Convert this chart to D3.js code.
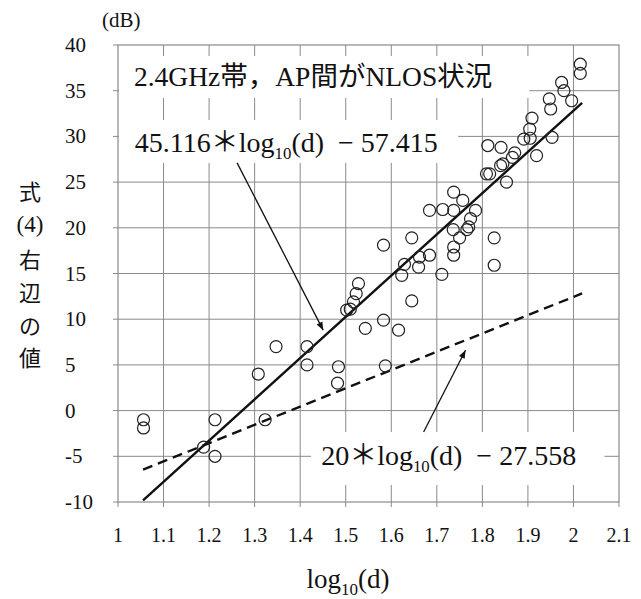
<!DOCTYPE html>
<html><head><meta charset="utf-8">
<script src="https://cdn.jsdelivr.net/npm/d3@7"></script>
<style>
html,body{margin:0;padding:0;background:#fff;}
svg{display:block;}
text{font-family:"Liberation Serif","Times New Roman",serif;fill:#111;}
.cjk{font-family:"Noto Sans CJK JP",sans-serif;}
.ser{font-family:"Liberation Serif","Times New Roman",serif;}
</style>
</head><body>
<svg id="c" width="641" height="599"></svg>
<script>
// ---- data ----
const logd = [1.056,1.056,1.213,1.188,1.213,1.323,1.308,1.347,1.415,1.415,1.482,1.484,
  1.502,1.510,1.517,1.523,1.528,1.543,1.583,1.587,1.616,1.583,1.623,1.629,1.645,1.645,
  1.660,1.662,1.684,1.711,1.684,1.713,1.737,1.736,1.737,1.737,1.750,1.757,1.766,1.770,
  1.774,1.785,1.737,1.809,1.816,1.812,1.826,1.826,1.840,1.845,1.841,1.853,1.871,1.866,
  1.891,1.905,1.904,1.909,1.919,1.947,1.950,1.953,1.974,1.979,1.996,2.015,2.015];
const value = [-1.0,-1.9,-1.0,-4.0,-5.0,-1.0,4.0,7.0,7.0,5.0,3.0,4.8,
  11.0,11.1,11.9,12.8,13.9,9.0,9.9,4.9,8.8,18.1,14.8,16.0,18.9,12.0,
  15.7,16.8,17.0,14.9,21.9,22.0,23.9,19.8,17.9,17.0,18.9,23.0,19.8,20.1,
  21.0,21.9,21.9,25.9,25.9,29.0,18.9,15.9,26.8,27.0,28.8,25.0,28.2,27.7,
  29.7,29.8,30.8,32.0,27.9,34.1,33.0,29.9,35.9,35.0,33.9,37.9,36.9];
const xTicks = [1,1.1,1.2,1.3,1.4,1.5,1.6,1.7,1.8,1.9,2,2.1];
const xTickLabels = ["1","1.1","1.2","1.3","1.4","1.5","1.6","1.7","1.8","1.9","2","2.1"];
const yTicks = [-10,-5,0,5,10,15,20,25,30,35,40];
const fitRange = [1.055, 2.019];
const fitA = [45.116, -57.415];   // slope, intercept (solid)
const refA = [20, -27.558];       // slope, intercept (dashed)
const yTitleChars = ["式","(4)","右","辺","の","値"];
const titleSegs = [["2.4GHz","ser"],["帯，","cjk"],["AP","ser"],["間が","cjk"],["NLOS","ser"],["状況","cjk"]];

// ---- layout ----
const svg = d3.select("#c");
const L = 118, R = 619, T = 45, B = 502;
const x = d3.scaleLinear().domain([1,2.1]).range([L,R]);
const y = d3.scaleLinear().domain([-10,40]).range([B,T]);
const gridCol = "#8a8a8a";

// grid
const g = svg.append("g");
g.selectAll(".vg").data(xTicks.slice(1,-1)).join("line")
  .attr("x1",d=>x(d)).attr("x2",d=>x(d)).attr("y1",T).attr("y2",B)
  .attr("stroke",gridCol).attr("stroke-width",1);
g.selectAll(".hg").data(yTicks.slice(1,-1)).join("line")
  .attr("y1",d=>y(d)).attr("y2",d=>y(d)).attr("x1",L).attr("x2",R)
  .attr("stroke",gridCol).attr("stroke-width",1);

// white label boxes that mask the grid
const boxes = [
  {x0:1.002,x1:1.903,y0:38.8,y1:34.2},
  {x0:1.002,x1:1.747,y0:31.8,y1:27.1},
  {x0:1.424,x1:2.068,y0:-2.34,y1:-8.14}
];
g.selectAll(".box").data(boxes).join("rect")
  .attr("x",d=>x(d.x0)).attr("y",d=>y(d.y0))
  .attr("width",d=>x(d.x1)-x(d.x0)).attr("height",d=>y(d.y1)-y(d.y0))
  .attr("fill","#fff");

// frame
g.append("rect").attr("x",L).attr("y",T).attr("width",R-L).attr("height",B-T)
  .attr("fill","none").attr("stroke",gridCol).attr("stroke-width",1.2);
// outer tick stubs
g.selectAll(".lt").data(yTicks).join("line")
  .attr("x1",L-5).attr("x2",L).attr("y1",d=>y(d)).attr("y2",d=>y(d))
  .attr("stroke",gridCol);
g.selectAll(".bt").data(xTicks).join("line")
  .attr("x1",d=>x(d)).attr("x2",d=>x(d)).attr("y1",B).attr("y2",B+5)
  .attr("stroke",gridCol);

// tick labels
svg.selectAll(".yl").data(yTicks).join("text")
  .attr("x",65).attr("y",d=>y(d)+7).attr("text-anchor","start")
  .attr("font-size",21).text(d=>d);
svg.selectAll(".xl").data(xTicks).join("text")
  .attr("x",d=>x(d)).attr("y",B+40).attr("text-anchor","middle")
  .attr("font-size",20).text((d,i)=>xTickLabels[i]);

// axis titles
svg.append("text").attr("x",102).attr("y",27).attr("font-size",21).text("(dB)");
const yPos = [191,225,259,292,325,357];
svg.selectAll(".yt").data(yTitleChars).join("text")
  .attr("class",(d,i)=>i===1?"ser":"cjk").attr("x",30).attr("y",(d,i)=>yPos[i]+(i===1?7:9))
  .attr("text-anchor","middle").attr("font-size",(d,i)=>i===1?23:22).attr("fill","#222").text(d=>d);
const xt = svg.append("text").attr("x",348).attr("y",588).attr("text-anchor","middle").attr("font-size",27);
xt.append("tspan").text("log");
xt.append("tspan").attr("font-size",17).attr("dy",7).text("10");
xt.append("tspan").attr("dy",-7).text("(d)");

// fit lines
const lineGen = d3.line().x(d=>x(d[0])).y(d=>y(d[1]));
const fitPts = fitRange.map(v=>[v, fitA[0]*v+fitA[1]]);
const refPts = fitRange.map(v=>[v, refA[0]*v+refA[1]]);
svg.append("path").attr("d",lineGen(refPts)).attr("stroke","#111").attr("stroke-width",2.4)
  .attr("stroke-dasharray","10,6").attr("fill","none");
svg.append("path").attr("d",lineGen(fitPts)).attr("stroke","#111").attr("stroke-width",2.4).attr("fill","none");

// points
svg.selectAll(".pt").data(logd.map((v,i)=>[v,value[i]])).join("circle")
  .attr("cx",d=>x(d[0])).attr("cy",d=>y(d[1])).attr("r",6)
  .attr("fill","none").attr("stroke","#222").attr("stroke-width",1.2);

// arrows
svg.append("defs").append("marker").attr("id","ah").attr("viewBox","0 0 10 10")
  .attr("refX",10).attr("refY",5).attr("markerWidth",13).attr("markerHeight",8)
  .attr("markerUnits","userSpaceOnUse").attr("orient","auto")
  .append("path").attr("d","M0,1 L10,5 L0,9 Z").attr("fill","#111");
const arrows = [
  {a:[1.2615,27.1], b:[1.4505,8.8]},
  {a:[1.671,-2.34], b:[1.763,6.6]}
];
svg.selectAll(".ar").data(arrows).join("line")
  .attr("x1",d=>x(d.a[0])).attr("y1",d=>y(d.a[1]))
  .attr("x2",d=>x(d.b[0])).attr("y2",d=>y(d.b[1]))
  .attr("stroke","#111").attr("stroke-width",1.3).attr("marker-end","url(#ah)");

// annotation texts
const tt = svg.append("text").attr("x",x(1.035)).attr("y",y(35.5)).attr("font-size",27.5);
titleSegs.forEach(s=>tt.append("tspan").attr("class",s[1]).text(s[0]));
function eq(xv,yv,a,b,fs){
  const t = svg.append("text").attr("x",x(xv)).attr("y",y(yv)).attr("font-size",fs);
  t.append("tspan").text(a);
  t.append("tspan").attr("class","cjk").text("＊");
  t.append("tspan").text("log");
  t.append("tspan").attr("font-size",fs*0.6).attr("dy",fs*0.25).text("10");
  t.append("tspan").attr("dy",-fs*0.25).text("(d)\u00a0\u00a0−\u00a0"+b);
}
eq(1.037,28.3,"45.116","57.415",28);
eq(1.446,-5.95,"20","27.558",28);
</script>
</body></html>
